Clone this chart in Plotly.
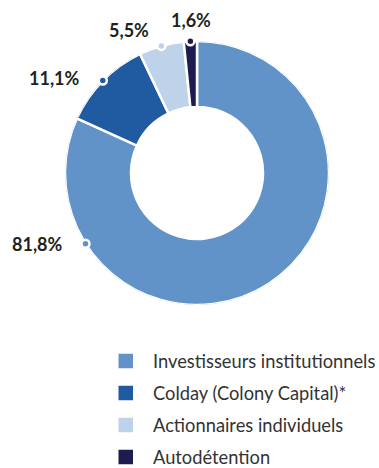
import plotly.graph_objects as go

# Shareholder structure
categories = ["Investisseurs institutionnels", "Colday (Colony Capital)*",
              "Actionnaires individuels", "Autodétention"]
shares = [81.8, 11.1, 5.5, 1.6]
value_labels = ["81,8%", "11,1%", "5,5%", "1,6%"]
colors = ["#6193c9", "#205aa0", "#bed2ea", "#1e1b50"]

# where, along each slice, the callout dot sits (0 = slice start, 1 = slice end)
dot_fraction = [0.807, 0.5, 0.5, 0.5]

W, H = 379, 468


def px(x):
    return x / W


def py(y):
    return 1 - y / H


# donut geometry in pixels
cx, cy, R = 197, 173, 132
dom_x = [px(cx - R), px(cx + R)]
dom_y = [py(cy + R), py(cy - R)]

# slice spans and centres (degrees, clockwise from 12 o'clock)
total = sum(shares)
spans = [v / total * 360 for v in shares]
starts = [sum(spans[:i]) for i in range(len(spans))]
centres = [s + w / 2 for s, w in zip(starts, spans)]
dot_theta = [s + f * w for s, w, f in zip(starts, spans, dot_fraction)]

fig = go.Figure()

# donut ring: polar bars from r=0.5 to r=1
fig.add_trace(go.Barpolar(
    r=[0.5] * len(shares),
    base=[0.5] * len(shares),
    theta=centres,
    width=spans,
    marker=dict(color=colors, line=dict(color="white", width=2.5)),
    customdata=shares,
    text=categories,
    hovertemplate="%{text}: %{customdata}%<extra></extra>",
    showlegend=False,
))

# callout dots on the outer rim
fig.add_trace(go.Scatterpolar(
    r=[1] * len(shares),
    theta=dot_theta,
    mode="markers",
    cliponaxis=False,
    marker=dict(size=8, color=colors, line=dict(color="white", width=2.5)),
    showlegend=False,
    hoverinfo="skip",
))

# value labels beside the dots
label_pos = [(65, 244), (82, 78), (151, 30), (213, 20)]
annotations = []
for text, (lx, ly) in zip(value_labels, label_pos):
    annotations.append(dict(
        text=f"<b>{text}</b>", x=px(lx), y=py(ly), xref="paper", yref="paper",
        xanchor="right", yanchor="middle", showarrow=False,
        font=dict(family="Lato", size=18, color="#231f20"),
    ))

# legend: coloured squares with their category names
shapes = []
row0, row_step, sq = 361, 32, 14.5
for i, (name, col) in enumerate(zip(categories, colors)):
    yc = row0 + i * row_step
    shapes.append(dict(
        type="rect", xref="paper", yref="paper",
        x0=px(118.5), x1=px(118.5 + sq), y0=py(yc + sq / 2), y1=py(yc - sq / 2),
        fillcolor=col, line=dict(width=0),
    ))
    annotations.append(dict(
        text=name, x=px(151), y=py(yc), xref="paper", yref="paper",
        xanchor="left", yanchor="middle", showarrow=False,
        font=dict(family="Lato", size=18.3, color="#333333"),
    ))

fig.update_layout(
    width=W, height=H,
    margin=dict(l=0, r=0, t=0, b=0),
    paper_bgcolor="white",
    plot_bgcolor="white",
    polar=dict(
        domain=dict(x=dom_x, y=dom_y),
        bgcolor="rgba(0,0,0,0)",
        barmode="overlay",
        radialaxis=dict(visible=False, range=[0, 1]),
        angularaxis=dict(visible=False, rotation=90, direction="clockwise"),
    ),
    shapes=shapes,
    annotations=annotations,
)

fig.write_html("out.html")
